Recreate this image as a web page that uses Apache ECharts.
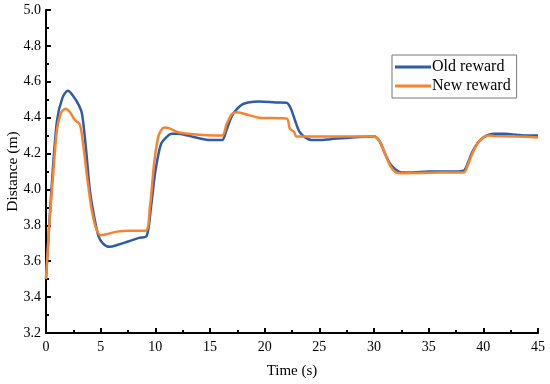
<!DOCTYPE html>
<html>
<head>
<meta charset="utf-8">
<script src="https://cdn.jsdelivr.net/npm/echarts@6/dist/echarts.min.js"></script>
<style>html,body{margin:0;padding:0;background:#fff}#c{width:550px;height:384px}</style>
</head>
<body>
<div id="c"></div>
<script>
const oldT = [0,0.5,1.0,1.5,2.0,2.5,3.0,3.3,3.7,4.0,4.4,4.8,5.2,5.8,6.5,7.5,8.5,9.2,9.6,10.0,10.5,11.0,11.5,12,13,14,15,16.1,16.5,17,17.5,18,18.5,19.5,21,22,22.4,22.8,23.2,23.7,24.3,25,26,28,30,30.5,31,31.5,32,32.5,33.5,35,37,38.2,38.6,39,39.5,40,40.5,41,42,43,44,45];
const oldV = [3.5,4.0,4.38,4.51,4.55,4.52,4.47,4.42,4.2,4.0,3.85,3.74,3.70,3.68,3.69,3.71,3.73,3.74,3.9,4.1,4.25,4.29,4.31,4.31,4.30,4.285,4.275,4.275,4.33,4.41,4.45,4.475,4.485,4.49,4.485,4.483,4.45,4.38,4.32,4.29,4.275,4.275,4.28,4.29,4.295,4.27,4.2,4.14,4.11,4.095,4.095,4.1,4.1,4.105,4.15,4.21,4.26,4.29,4.305,4.31,4.31,4.305,4.30,4.30];
const newT = [0,0.3,0.7,1.0,1.4,1.8,2.2,2.6,3.1,3.4,3.8,4.2,4.6,5.0,5.5,6.5,7.5,9.1,9.5,9.9,10.3,10.8,11.3,12,13,14,16.1,16.5,17,17.5,18.5,19.5,22,22.3,22.7,22.9,24,26,28,30,30.5,31,31.5,32,32.5,34,36,38.2,38.6,39,39.5,40,40.5,41,43,45];
const newV = [3.5,3.8,4.12,4.33,4.43,4.45,4.43,4.39,4.36,4.25,4.05,3.88,3.78,3.745,3.75,3.765,3.77,3.77,3.9,4.15,4.3,4.345,4.34,4.32,4.31,4.305,4.30,4.36,4.42,4.43,4.415,4.40,4.395,4.34,4.32,4.295,4.295,4.295,4.295,4.295,4.27,4.2,4.13,4.095,4.09,4.092,4.095,4.095,4.14,4.2,4.26,4.29,4.3,4.298,4.295,4.29];
const seriesNames = ['Old reward','New reward'];
const xTitle = 'Time (s)';
const yTitle = 'Distance (m)';

const font = '"Liberation Serif","Times New Roman",serif';
const chart = echarts.init(document.getElementById('c'));
const zip = (t,v)=>t.map((x,i)=>[x,v[i]]);
chart.setOption({
  animation:false,
  backgroundColor:'#fff',
  grid:{left:46,right:12,top:10,bottom:51,containLabel:false,outerBoundsMode:'none'},
  legend:{
    orient:'vertical', left:392, top:55, padding:[4,6,4,3],
    borderColor:'#777', borderWidth:1, itemGap:3,
    itemWidth:36, itemHeight:3, icon:'rect',
    textStyle:{fontFamily:font,fontSize:16,color:'#000',padding:[0,0,0,-4]},
    data:seriesNames
  },
  xAxis:{
    type:'value', min:0, max:45, interval:5,
    name:xTitle, nameLocation:'middle', nameGap:31, nameMoveOverlap:false,
    nameTextStyle:{fontFamily:font,fontSize:15,color:'#000'},
    axisLine:{lineStyle:{color:'#000',width:2}},
    axisTick:{inside:true,length:5,lineStyle:{width:2,color:'#000'}},
    minorTick:{show:true,splitNumber:2,length:3,lineStyle:{width:2,color:'#000'}},
    axisLabel:{fontFamily:font,fontSize:14,color:'#000',margin:7},
    splitLine:{show:false}
  },
  yAxis:{
    type:'value', min:3.2, max:5.0, interval:0.2,
    name:yTitle, nameLocation:'middle', nameGap:25, nameRotate:90, nameMoveOverlap:false,
    nameTextStyle:{fontFamily:font,fontSize:15.5,color:'#000'},
    axisLine:{show:true,lineStyle:{color:'#000',width:2}},
    axisTick:{show:true,inside:true,length:5,lineStyle:{width:2,color:'#000'}},
    minorTick:{show:true,splitNumber:2,length:3,lineStyle:{width:2,color:'#000'}},
    axisLabel:{fontFamily:font,fontSize:14,color:'#000',margin:5,formatter:v=>v.toFixed(1)},
    splitLine:{show:false}
  },
  series:[
    {name:seriesNames[0],type:'line',data:zip(oldT,oldV),showSymbol:false,smooth:0.3,
     lineStyle:{color:'#2c5cab',width:2.5},itemStyle:{color:'#2c5cab'}},
    {name:seriesNames[1],type:'line',data:zip(newT,newV),showSymbol:false,smooth:0.3,
     lineStyle:{color:'#f7842d',width:2.5},itemStyle:{color:'#f7842d'}}
  ]
});
</script>
</body>
</html>
